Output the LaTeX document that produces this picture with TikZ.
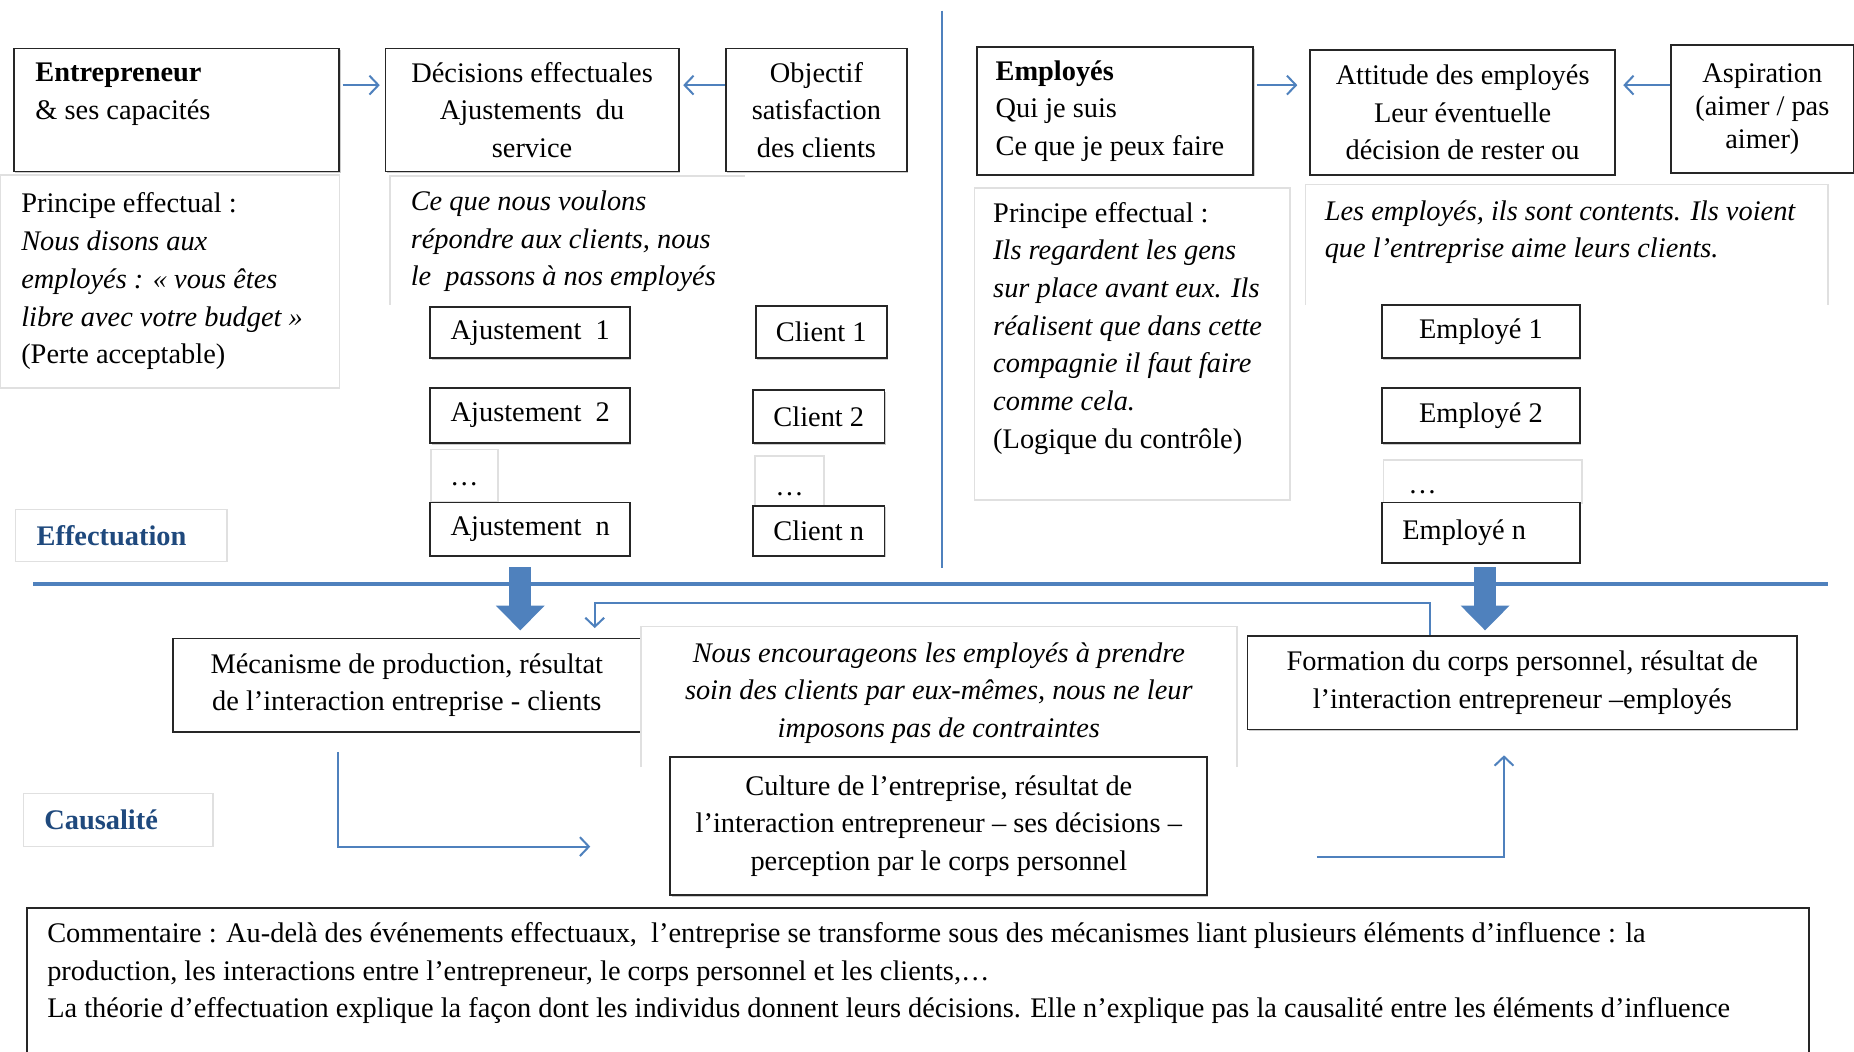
\documentclass[tikz,border=0pt,12pt]{standalone}
\usepackage{fontspec}
\setmainfont{Liberation Serif}
\linespread{1.1}
\usepackage{tikz}
\usetikzlibrary{arrows.meta,shadows}
\definecolor{wblue}{RGB}{79,129,189}
\definecolor{labblue}{RGB}{31,73,125}

\begin{document}
\begin{tikzpicture}[x=0.5pt, y=-0.5pt,
cbox/.style={draw=black!85, line width=0.8pt, fill=white, inner sep=0pt, align=center, drop shadow={shadow xshift=0.5pt, shadow yshift=-0.6pt, opacity=0.4}},
faint/.style={draw=black!12, line width=0.6pt, fill=white, inner sep=0pt},
faintline/.style={draw=black!12, line width=0.6pt},
arr/.style={draw=wblue, line width=0.85pt, -{Straight Barb[length=3.8pt,width=8pt]}},
bigarr/.style={draw=wblue, line width=9.5pt, -{Triangle[width=20pt,length=10.5pt]}},
vline/.style={draw=wblue, line width=0.8pt},
hline/.style={draw=wblue, line width=1.5pt}]
\useasboundingbox (0,0) rectangle (1568,889);

\draw[vline] (797,9) -- (797,480);

\node[faint, align=flush left, text width=125.5pt, inner xsep=9pt, minimum height=90pt] (prin1) at (143.5,238) {Principe effectual :\\\textit{Nous disons aux}\\\textit{employés : « vous êtes}\\\textit{libre avec votre budget »}\\(Perte acceptable)};
\node[cbox, align=flush left, text width=119.5pt, inner xsep=9pt, minimum height=52pt] (entr) at (149.5,93) {\textbf{Entrepreneur}\\\& ses capacités\\\mbox{}};
\node[cbox, minimum width=124pt, minimum height=52pt] (dec) at (450,93) {Décisions effectuales\\Ajustements~~du\\service};
\node[cbox, minimum width=76.5pt, minimum height=52pt] (obj) at (690.5,93) {Objectif\\satisfaction\\des clients};
\draw[arr] ([xshift=1pt,yshift=10.5pt]entr.east) -- ([xshift=-2pt,yshift=10.5pt]dec.west);
\draw[arr] ([yshift=10.5pt]obj.west) -- ([xshift=1.5pt,yshift=10.5pt]dec.east);

\draw[faintline] (630,149) -- (330,149) -- (330,258);
\node[anchor=north west, align=flush left, inner sep=0pt] (voulons) at (347,161) {\textit{Ce que nous voulons}\\\textit{répondre aux clients, nous}\\\textit{le~~passons à nos employés}};

\node[cbox, minimum width=84.5pt, minimum height=21.5pt] (aj1) at (448.5,281.5) {Ajustement~~1};
\node[cbox, minimum width=84.5pt, minimum height=23.5pt] (aj2) at (448.5,351.5) {Ajustement~~2};
\node[faint, minimum width=28.25pt, text height=15.5pt, text depth=6.75pt] (ajd) at (392.75,402.25) {\dots};
\node[cbox, minimum width=84.5pt, minimum height=22.5pt] (ajn) at (448.5,447.5) {Ajustement~~n};

\node[cbox, minimum width=55.5pt, minimum height=22pt] (cl1) at (694.5,281) {Client 1};
\node[cbox, minimum width=55.5pt, minimum height=22.5pt] (cl2) at (692.5,352.5) {Client 2};
\node[faint, minimum width=29.25pt, text height=16.7pt, text depth=4.75pt] (cld) at (667.75,407) {\dots};
\node[cbox, minimum width=55.5pt, minimum height=21pt] (cln) at (692.5,449) {Client n};

\node[faint, align=flush left, text width=71.5pt, inner xsep=9pt, minimum height=22pt, font=\bfseries, text=labblue] (effec) at (102.5,453) {Effectuation};

\node[cbox, align=flush left, text width=101pt, inner xsep=8pt, minimum height=54pt] (emp) at (943,94) {\textbf{Employés}\\Qui je suis\\Ce que je peux faire};
\node[cbox, minimum width=129pt, minimum height=53pt] (att) at (1237,95) {Attitude des employés\\Leur éventuelle\\décision de rester ou};
\node[cbox, minimum width=77.5pt, minimum height=54pt, font=\linespread{0.96}\selectfont] (asp) at (1490.5,92) {Aspiration\\(aimer / pas\\aimer)};
\draw[arr] ([xshift=1pt,yshift=11pt]emp.east) -- ([xshift=-5pt,yshift=11.5pt]att.west);
\draw[arr] ([yshift=10pt]asp.west) -- ([xshift=3pt,yshift=11.5pt]att.east);

\node[faint, align=flush left, text width=117.5pt, inner xsep=8pt, minimum height=132pt] (prin2) at (957.5,291) {Principe effectual :\\\textit{Ils regardent les gens}\\\textit{sur place avant eux. Ils}\\\textit{réalisent que dans cette}\\\textit{compagnie il faut faire}\\\textit{comme cela.}\\(Logique du contrôle)\\\mbox{}};

\draw[faintline] (1104,258) -- (1104,156) -- (1546,156) -- (1546,258);
\node[anchor=north west, align=flush left, inner sep=0pt] (contents) at (1120,169) {\textit{Les employés, ils sont contents. Ils voient}\\\textit{que l’entreprise aime leurs clients.}};

\node[cbox, minimum width=83.5pt, minimum height=22.5pt] (em1) at (1252.5,280.5) {Employé 1};
\node[cbox, minimum width=83.5pt, minimum height=23.5pt] (em2) at (1252.5,351.5) {Employé 2};
\node[faint, align=flush left, text width=63pt, inner xsep=10.5pt, text height=14pt, text depth=4.5pt] (emd) at (1254,407.5) {\dots};
\node[cbox, align=flush left, text width=66.5pt, inner xsep=8.5pt, minimum height=25.5pt] (emn) at (1252.5,450.5) {Employé n};

\draw[hline] (28,494) -- (1546,494);

\node[cbox, minimum width=198pt, minimum height=39.5pt] (mec) at (344,579.5) {Mécanisme de production, résultat\\de l’interaction entreprise - clients};
\draw[faintline] (542,649) -- (542,530) -- (1046,530) -- (1046,649);
\node[align=center, inner sep=0pt] (encour) at (794,586) {\textit{Nous encourageons les employés à prendre}\\\textit{soin des clients par eux-mêmes, nous ne leur}\\\textit{imposons pas de contraintes}};
\node[cbox, minimum width=227pt, minimum height=58.5pt] (cult) at (794,698.5) {Culture de l’entreprise, résultat de\\l’interaction entrepreneur – ses décisions –\\perception par le corps personnel};
\node[cbox, minimum width=232.5pt, minimum height=39.5pt] (form) at (1287.5,577.5) {Formation du corps personnel, résultat de\\l’interaction entrepreneur –employés};

\node[faint, align=flush left, text width=62.5pt, inner xsep=8.75pt, minimum height=22.5pt, font=\bfseries, text=labblue] (caus) at (100,693.5) {Causalité};

\draw[bigarr] ([xshift=-4.25pt,yshift=-4.5pt]ajn.south) -- ([xshift=48pt,yshift=3pt]mec.north);
\draw[bigarr] ([xshift=1.75pt,yshift=-1.5pt]emn.south) -- ([xshift=-15.75pt,yshift=2pt]form.north);
\draw[arr] ([xshift=-39.25pt]form.north) -- ++(0,-27) -| ([xshift=79.5pt,yshift=4pt]mec.north);
\draw[arr] ([xshift=-29pt,yshift=-8pt]mec.south) |- ([xshift=-33.5pt,yshift=-8.75pt]cult.west);
\draw[arr] ([xshift=46pt,yshift=-13.25pt]cult.east) -| ([xshift=-7.75pt,yshift=-10.5pt]form.south);

\node[cbox, align=flush left, text width=736.5pt, inner xsep=8.5pt, minimum height=68.5pt] (comm) at (776.5,836.5) {Commentaire : Au-delà des événements effectuaux,~ l’entreprise se transforme sous des mécanismes liant plusieurs éléments d’influence : la\\production, les interactions entre l’entrepreneur, le corps personnel et les clients,…\\La théorie d’effectuation explique la façon dont les individus donnent leurs décisions. Elle n’explique pas la causalité entre les éléments d’influence\\\mbox{}};
\end{tikzpicture}
\end{document}
